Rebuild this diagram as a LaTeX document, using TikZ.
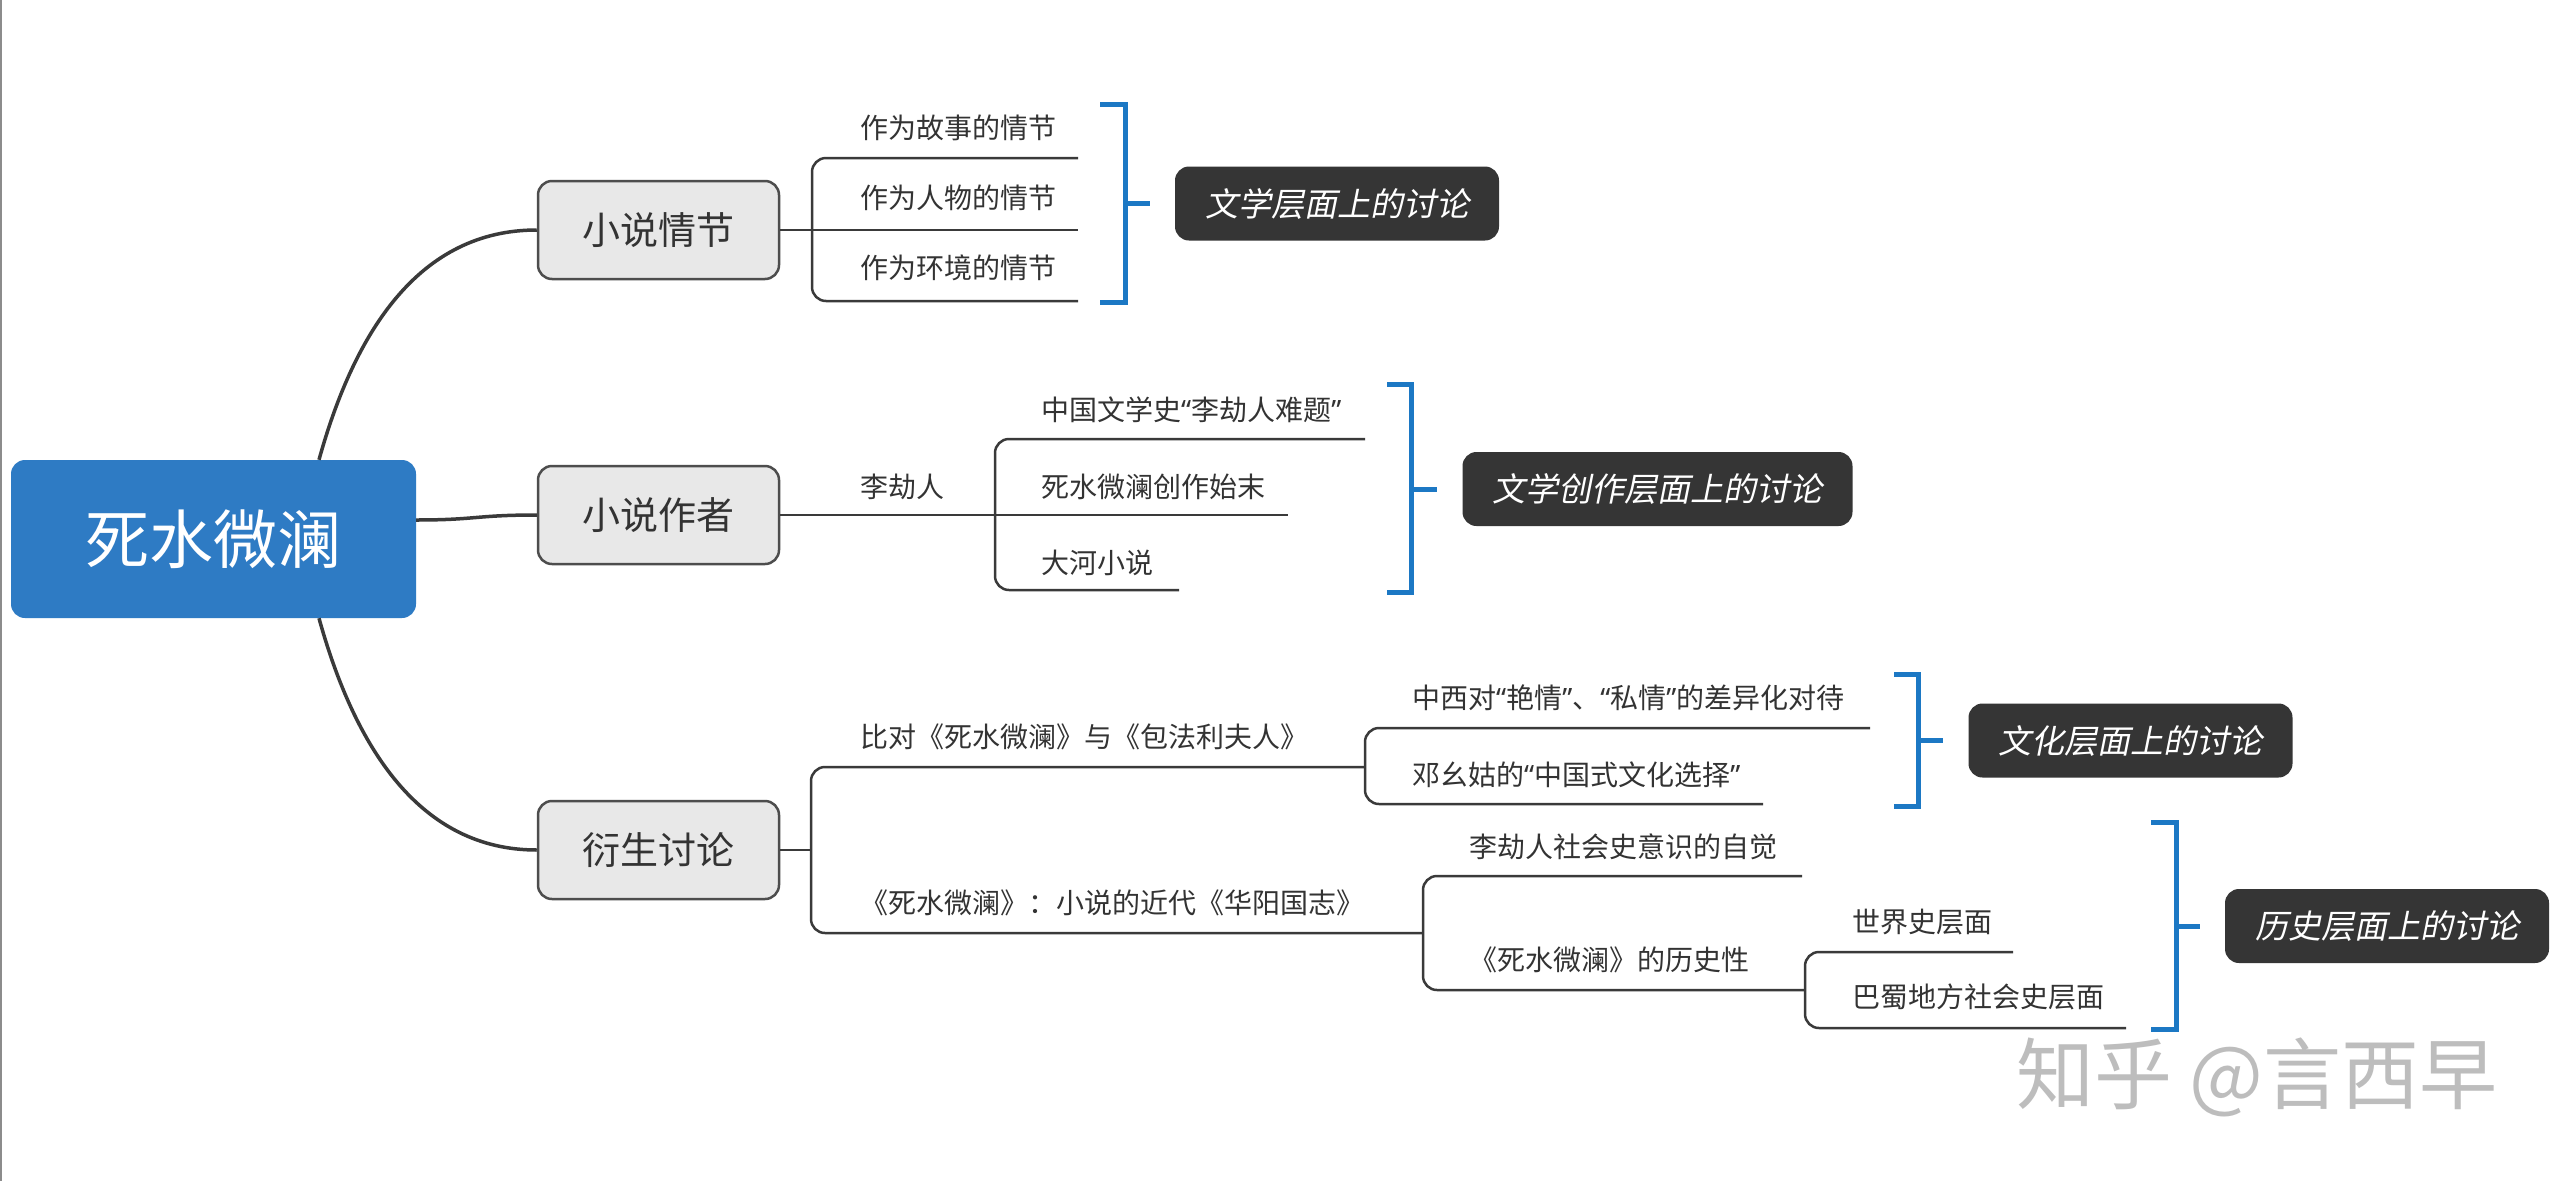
\documentclass[tikz,border=0pt]{standalone}
\usepackage{fontspec}
\setmainfont{Noto Sans CJK SC}
\newfontfamily\slfont[FakeSlant=0.2]{Noto Sans CJK SC}
\newfontfamily\latquote{Noto Sans}
\newcommand\myoq{{\latquote “}}
\newcommand\mycq{{\latquote ”}}
\definecolor{mainblue}{HTML}{2E7BC4}
\definecolor{txt}{HTML}{333333}
\definecolor{lin}{HTML}{3A3A3A}
\definecolor{boxgray}{HTML}{E8E8E8}
\definecolor{boxline}{HTML}{4D4D4D}
\definecolor{darkbox}{HTML}{353535}
\definecolor{bracketblue}{HTML}{1C78C4}
\definecolor{wmgray}{HTML}{BDBDBD}
\begin{document}
\begin{tikzpicture}[x=1pt,y=-1pt,
  mainnode/.style={fill=mainblue, rounded corners=14pt, minimum width=405pt, minimum height=158pt, text=white, font=\fontsize{64}{70}\selectfont, inner sep=0pt},
  topicbox/.style={fill=boxgray, draw=boxline, line width=2.5pt, rounded corners=14pt, minimum width=241pt, minimum height=98pt, inner sep=0pt, text=txt, font=\fontsize{38}{44}\selectfont},
  sub/.style={anchor=west, inner sep=0pt, text=txt, font=\fontsize{28}{34}\selectfont},
  summ/.style={fill=darkbox, rounded corners=14pt, minimum height=74pt, inner xsep=30pt, inner ysep=0pt, text=white, font=\slfont\fontsize{33}{40}\selectfont},
  mainline/.style={draw=lin, line width=3.5pt},
  subline/.style={draw=lin, line width=2.5pt, rounded corners=14pt},
  brace/.style={draw=bracketblue, line width=5pt},
]
\useasboundingbox (0,0) rectangle (2560,1181);
\fill[white] (0,0) rectangle (2560,1181);
\draw[draw=black!45, line width=2pt] (1,0) -- (1,1181);

% main nodes
\node[mainnode] (root) at (213.5,539) {死水微澜};
\node[topicbox] (t1) at (658.5,230) {小说情节};
\node[topicbox] (t2) at (658.5,515) {小说作者};
\node[topicbox] (t3) at (658.5,850) {衍生讨论};

\draw[mainline] ([xshift=105.5pt]root.north) .. controls (355,330) and (420,230) .. (t1.west);
\draw[mainline] ([yshift=19pt]root.east) .. controls (476,520) and (476,515) .. (t2.west);
\draw[mainline] ([xshift=105.5pt]root.south) .. controls (355,748) and (420,850) .. (t3.west);

% branch 1
\draw[subline] (t1.east) -- (1078,230);
\draw[subline] (1078,158) -- (812,158) -- (812,301) -- (1078,301);
\node[sub] (c11) at (860,128) {作为故事的情节};
\node[sub] (c12) at (860,198) {作为人物的情节};
\node[sub] (c13) at (860,268) {作为环境的情节};
\node[summ] (s1) at (1337,203.5) {文学层面上的讨论};
\draw[brace] (1100,104) -- (1125,104) -- (1125,302) -- (1100,302);
\draw[brace] (1125,203.5) -- ([xshift=-25pt]s1.west);

% branch 2
\draw[subline] (t2.east) -- (1288,515);
\node[sub] (c2) at (860,487) {李劫人};
\draw[subline] (1365,439) -- (995,439) -- (995,590) -- (1179,590);
\node[sub] (c21) at (1041,410) {中国文学史\myoq 李劫人难题\mycq};
\node[sub] (c22) at (1041,487) {死水微澜创作始末};
\node[sub] (c23) at (1041,563) {大河小说};
\node[summ] (s2) at (1657.5,489) {文学创作层面上的讨论};
\draw[brace] (1387,384) -- (1411,384) -- (1411,592) -- (1387,592);
\draw[brace] (1411,489) -- ([xshift=-25pt]s2.west);

% branch 3
\draw[subline] (t3.east) -- (811,850);
\draw[subline] (1365,767) -- (811,767) -- (811,933) -- (1423,933);
\node[sub] (c3a) at (860,737) {比对《死水微澜》与《包法利夫人》};
\node[sub] (c3b) at (860,903) {《死水微澜》：小说的近代《华阳国志》};

\draw[subline] (1870,728) -- (1365,728) -- (1365,804) -- (1763,804);
\node[sub] (c3a1) at (1412,698) {中西对\myoq 艳情\mycq、\myoq 私情\mycq 的差异化对待};
\node[sub] (c3a2) at (1412,775) {邓幺姑的\myoq 中国式文化选择\mycq};
\node[summ] (s3) at (2130.5,740.5) {文化层面上的讨论};
\draw[brace] (1894,674) -- (1918,674) -- (1918,806) -- (1894,806);
\draw[brace] (1918,740.5) -- ([xshift=-25pt]s3.west);

\draw[subline] (1802,876) -- (1423,876) -- (1423,990) -- (1805,990);
\node[sub] (c3b1) at (1469,847) {李劫人社会史意识的自觉};
\node[sub] (c3b2) at (1469,960) {《死水微澜》的历史性};

\draw[subline] (2013,952) -- (1805,952) -- (1805,1028) -- (2126,1028);
\node[sub] (c3b21) at (1852,922) {世界史层面};
\node[sub] (c3b22) at (1852,997) {巴蜀地方社会史层面};
\node[summ] (s4) at (2387,926) {历史层面上的讨论};
\draw[brace] (2151,822) -- (2176,822) -- (2176,1029) -- (2151,1029);
\draw[brace] (2176,926) -- ([xshift=-25pt]s4.west);

% watermark
\node[anchor=west, inner sep=0pt, text=wmgray, font=\fontsize{78}{82}\selectfont] (wm) at (2016,1077) {知乎 @言西早};
\end{tikzpicture}
\end{document}
